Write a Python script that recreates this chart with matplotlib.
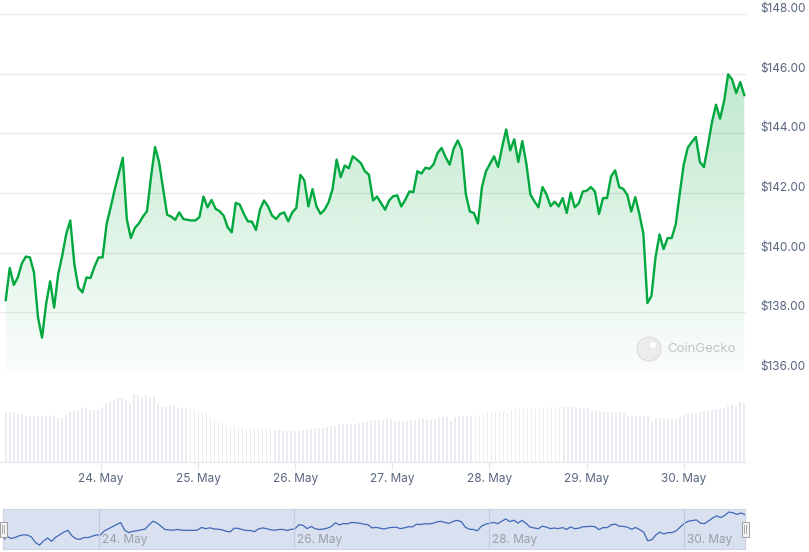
import numpy as np
import pandas as pd
import matplotlib
matplotlib.use('Agg')
import matplotlib.pyplot as plt
import matplotlib.dates as mdates
from matplotlib.patches import Rectangle, Ellipse
from matplotlib.transforms import ScaledTranslation

plt.rcParams['font.family'] = ['Inter', 'DejaVu Sans']

# price in USD, roughly hourly, 23 May 00:27 -> 30 May 15:00
price = [138.41, 139.49, 138.92, 139.17, 139.64, 139.87, 139.84, 139.34, 137.83, 137.15,
         138.27, 139.04, 138.16, 139.28, 139.90, 140.63, 141.08, 139.62, 138.83, 138.67,
         139.17, 139.15, 139.53, 139.84, 139.84, 140.96, 141.52, 142.11, 142.65, 143.18,
         141.13, 140.49, 140.83, 140.98, 141.21, 141.39, 142.53, 143.54, 143.04, 142.14,
         141.27, 141.21, 141.10, 141.35, 141.13, 141.10,
         141.08, 141.08, 141.19, 141.88, 141.52, 141.77, 141.47, 141.39, 141.24, 140.85,
         140.68, 141.67, 141.61, 141.30, 141.05, 141.04, 140.76, 141.44, 141.75, 141.55,
         141.24, 141.13, 141.30, 141.35, 141.05, 141.35, 141.50, 142.61, 142.42, 141.55,
         142.13, 141.55, 141.30, 141.44, 141.69, 142.14, 143.12, 142.53, 142.92, 142.83,
         143.23, 143.12, 143.00, 142.73, 142.61, 141.75,
         141.88, 141.66, 141.44, 141.75, 141.89, 141.92, 141.55, 141.77, 142.05, 142.03,
         142.73, 142.65, 142.85, 142.81, 142.96, 143.34, 143.51, 143.20, 142.95, 143.49,
         143.76, 143.45, 141.97, 141.38, 141.33, 140.98, 142.20, 142.73, 142.98, 143.23,
         142.87, 143.54, 144.13, 143.43, 143.80, 143.04, 143.74, 142.98, 141.95, 141.72,
         141.52, 142.20, 141.95, 141.56, 141.71,
         141.55, 141.83, 141.33, 142.01, 141.52, 141.66, 142.05, 142.08, 142.20, 142.05,
         141.30, 141.83, 141.83, 142.56, 142.76, 142.20, 142.14, 141.94, 141.38, 141.86,
         141.30, 140.63, 138.31, 138.55, 139.84, 140.61, 140.12, 140.49, 140.49, 140.94,
         141.97, 142.96, 143.52, 143.71, 143.88, 143.04, 142.87, 143.60, 144.38, 144.96,
         144.49, 145.08, 145.98, 145.80, 145.35, 145.72, 145.28]

# 24h volume, billions USD
volume = [2.00, 2.00, 2.00, 1.93, 1.93, 1.83, 1.83, 1.83, 1.83, 1.83, 1.83, 1.83, 1.89, 1.77, 1.77,
          1.90, 2.00, 2.05, 2.10, 2.15, 2.19, 2.07, 2.08, 2.10, 2.20, 2.35, 2.43, 2.47, 2.55, 2.55,
          2.46, 2.37, 2.72, 2.68, 2.61, 2.67, 2.61, 2.64, 2.35, 2.19, 2.19, 2.28, 2.27, 2.21, 2.18,
          2.16, 2.15, 2.12, 2.06, 1.97, 1.95, 1.81, 1.74, 1.64, 1.55, 1.46, 1.41, 1.43, 1.38, 1.35,
          1.34, 1.32, 1.32, 1.32, 1.32, 1.31, 1.32, 1.30, 1.28, 1.25, 1.24, 1.24, 1.24, 1.25, 1.28,
          1.30, 1.31, 1.34, 1.36, 1.38, 1.41, 1.44, 1.45, 1.49, 1.51, 1.52, 1.53, 1.48, 1.55, 1.59,
          1.61, 1.65, 1.67, 1.68, 1.69, 1.71, 1.71, 1.65, 1.63, 1.64, 1.65, 1.67, 1.68, 1.71, 1.75,
          1.71, 1.68, 1.73, 1.79, 1.79, 1.80, 1.64, 1.79, 1.81, 1.84, 1.85, 1.85, 1.85, 1.88, 1.87,
          1.95, 1.97, 2.00, 2.03, 2.04, 1.95, 2.08, 2.11, 2.11, 2.12, 2.12, 2.12, 2.12, 2.12, 2.15,
          2.19, 2.20, 2.19, 2.17, 2.19, 2.19, 2.19, 2.17, 2.16, 2.15, 2.15, 2.05, 2.04, 2.03, 2.01,
          1.99, 1.99, 1.97, 1.99, 1.97, 1.85, 1.84, 1.83, 1.84, 1.83, 1.83, 1.60, 1.78, 1.76, 1.75,
          1.75, 1.72, 1.73, 1.80, 1.90, 1.95, 1.96, 1.98, 2.00, 2.04, 2.07, 2.10, 2.11, 2.11, 2.17,
          2.23, 2.29, 2.19, 2.39, 2.35]

start = pd.Timestamp('2024-05-23 00:27')
end = pd.Timestamp('2024-05-30 15:00')
price_t = pd.date_range(start, end, periods=len(price))
vol_t = pd.date_range(start, end, periods=len(volume))

price_ticks = [136, 138, 140, 142, 144, 146, 148]
day_ticks = pd.date_range('2024-05-24', '2024-05-30', freq='D')
nav_ticks = day_ticks[::2]

W, H = 809, 552
fig = plt.figure(figsize=(W / 100, H / 100), dpi=100)


def box(x0, y0, x1, y1):
    return [x0 / W, 1 - y1 / H, (x1 - x0) / W, (y1 - y0) / H]


day0 = pd.Timestamp('2024-05-24')
px_day = 97.1
xl = (day0 - pd.Timedelta(days=101 / px_day), day0 + pd.Timedelta(days=(746 - 101) / px_day))

green = '#00a83e'
label_col = '#58667e'

# ---- price pane
ax = fig.add_axes(box(0, 14, 746, 372))
poly = ax.fill_between(price_t, price, 136, color='none', lw=0)
grad = np.zeros((256, 1, 4))
grad[:, :, :3] = np.array([0, 168, 62]) / 255
grad[:, 0, 3] = np.linspace(0.30, 0.02, 256)
im = ax.imshow(grad, extent=[mdates.date2num(price_t[0]), mdates.date2num(price_t[-1]), 136, 148],
               aspect='auto', origin='upper', zorder=1)
im.set_clip_path(poly.get_paths()[0], transform=ax.transData)
ax.plot(price_t, price, color=green, lw=1.7, zorder=3, solid_joinstyle='round')
ax.set_xlim(xl)
ax.set_ylim(136, 148)
ax.set_yticks(price_ticks)
ax.set_yticklabels(['$%.2f' % v for v in price_ticks])
ax.yaxis.tick_right()
ax.tick_params(axis='y', length=0, pad=10, labelsize=8.5, labelcolor=label_col)
for lab in ax.get_yticklabels():
    lab.set_transform(lab.get_transform() + ScaledTranslation(0, 0.065, fig.dpi_scale_trans))
ax.set_xticks([])
ax.grid(axis='y', color='#ebebeb', lw=1)
ax.set_axisbelow(True)
for s in ax.spines.values():
    s.set_visible(False)
ax.patch.set_alpha(0)

# watermark
fig.add_artist(Ellipse((649 / W, 1 - 349 / H), 24 / W, 24 / H, transform=fig.transFigure,
                       facecolor='#ececec', edgecolor='#dcdcdc', lw=0.8))
fig.add_artist(Ellipse((653 / W, 1 - 345 / H), 6 / W, 6 / H, transform=fig.transFigure,
                       facecolor='white', edgecolor='none'))
fig.text(667 / W, 1 - 349 / H, 'CoinGecko', color='#c4c4c4', fontsize=9.5, va='center', ha='left')

# ---- volume pane
axv = fig.add_axes(box(0, 380, 746, 462))
axv.bar(vol_t, volume, width=1.7 / px_day, color='#e9edf2', align='center')
axv.set_xlim(xl)
axv.set_ylim(0, 3.28)
axv.set_yticks([])
axv.set_xticks(day_ticks)
axv.xaxis.set_major_formatter(mdates.DateFormatter('%d. %b'))
axv.tick_params(axis='x', length=6, width=0.8, color='#e3e6ea', pad=2, labelsize=8.5, labelcolor=label_col)
for k, s in axv.spines.items():
    s.set_visible(k == 'bottom')
axv.spines['bottom'].set_color('#e3e6ea')
axv.patch.set_alpha(0)

# ---- navigator
axn = fig.add_axes(box(3, 509, 745, 549))
axn.set_facecolor('#d9e0f0')
axn.plot(price_t, price, color='#4068b8', lw=0.9)
axn.set_xlim(price_t[0], price_t[-1])
axn.set_ylim(136.1, 146.8)
for t in nav_ticks:
    axn.axvline(t, color='#c2cadf', lw=0.8)
axn.set_yticks([])
axn.set_xticks(nav_ticks)
axn.xaxis.set_major_formatter(mdates.DateFormatter('%d. %b'))
axn.tick_params(axis='x', length=0, pad=0, labelsize=8.5, labelcolor='#9a9fa8')
for lab in axn.get_xticklabels():
    lab.set_horizontalalignment('left')
    lab.set_transform(lab.get_transform() + ScaledTranslation(0.03, 0.15, fig.dpi_scale_trans))
for s in axn.spines.values():
    s.set_color('#cdd4e4')
    s.set_linewidth(0.8)
for xa in (0, 1):
    hw, hh = 7 / 742, 15 / 40
    axn.add_patch(Rectangle((xa - hw / 2, 0.5 - hh / 2), hw, hh, transform=axn.transAxes,
                            facecolor='#f2f2f2', edgecolor='#a0a0a0', lw=0.7, clip_on=False, zorder=5))
    for dx in (-1.2 / 742, 1.2 / 742):
        axn.plot([xa + dx, xa + dx], [0.5 - hh / 4, 0.5 + hh / 4], transform=axn.transAxes,
                 color='#a0a0a0', lw=0.6, clip_on=False, zorder=6)

fig.savefig('out.png', dpi=100)
